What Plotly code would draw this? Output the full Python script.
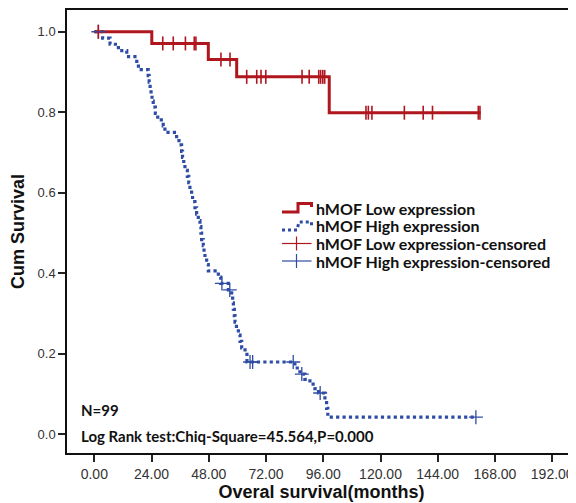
import plotly.graph_objects as go

# ---- data ----
low_times = [0, 24.1, 47.8, 59.7, 98.5, 162.0]
low_surv = [1.0, 0.971, 0.931, 0.888, 0.799, 0.799]
low_cens_t = [1.7, 28.7, 33.1, 38.2, 41.9, 42.6, 53.1, 56.9, 63.9, 68.1, 69.9, 71.9,
              87.1, 90.1, 94.1, 94.9, 95.8, 96.6, 113.9, 114.9, 116.4, 130.0, 137.9,
              141.8, 161.0, 161.7]
low_cens_s = [1.0, 0.971, 0.971, 0.971, 0.971, 0.971, 0.931, 0.931, 0.888, 0.888, 0.888,
              0.888, 0.888, 0.888, 0.888, 0.888, 0.888, 0.888, 0.799, 0.799, 0.799, 0.799,
              0.799, 0.799, 0.799, 0.799]

high_times = [0, 3.5, 6.6, 10.1, 13.6, 17.8, 18.5, 22.6, 23.0, 23.4, 23.8, 24.2, 24.7,
              25.6, 26.6, 28.9, 29.6, 34.5, 35.5, 36.6, 37.0, 37.5, 38.0, 39.0, 39.6,
              40.1, 40.8, 41.2, 42.2, 42.9, 43.6, 44.3, 44.7, 45.0, 45.7, 46.0, 46.4,
              47.1, 47.8, 52.0, 53.0, 56.2, 57.6, 58.0, 58.3, 58.7, 59.0, 59.6, 60.4,
              61.1, 61.8, 63.2, 64.0, 84.1, 86.2, 88.3, 90.4, 92.5, 94.0, 96.7, 97.4,
              97.9, 160.0]
high_surv = [1.0, 0.984, 0.969, 0.953, 0.938, 0.922, 0.906, 0.891, 0.875, 0.859, 0.844,
             0.828, 0.813, 0.797, 0.781, 0.766, 0.750, 0.734, 0.719, 0.703, 0.688, 0.672,
             0.656, 0.641, 0.625, 0.609, 0.594, 0.578, 0.563, 0.547, 0.531, 0.516, 0.500,
             0.484, 0.469, 0.453, 0.438, 0.422, 0.406, 0.391, 0.375, 0.359, 0.343, 0.327,
             0.311, 0.295, 0.279, 0.263, 0.247, 0.231, 0.215, 0.199, 0.180, 0.165, 0.150,
             0.137, 0.125, 0.114, 0.103, 0.086, 0.065, 0.043, 0.043]
high_cens_t = [1.7, 53.5, 56.8, 65.3, 66.4, 83.4, 87.0, 94.7, 160.0]
high_cens_s = [1.0, 0.375, 0.359, 0.180, 0.180, 0.180, 0.150, 0.103, 0.043]

x_ticks = [0, 24, 48, 72, 96, 120, 144, 168, 192]
y_ticks = [0.0, 0.2, 0.4, 0.6, 0.8, 1.0]

legend_labels = ["hMOF Low expression", "hMOF High expression",
                 "hMOF Low expression-censored", "hMOF High expression-censored"]

RED = "#B0161E"
BLUE = "#2E4CA6"

OFF = 8  # page body margin of the html page
W, H = 576 - OFF, 503 - OFF
ML, MR, MT, MB = 67 - OFF, 0, 10 - OFF, 50
PW, PH = W - ML - MR, H - MT - MB


def px(x):  # page pixel -> paper
    return (x - OFF - ML) / PW


def py(y):
    return (H - MB - (y - OFF)) / PH


fig = go.Figure()
fig.add_trace(go.Scatter(x=high_times, y=high_surv, mode="lines", line_shape="hv",
                         line=dict(color=BLUE, width=3.2, dash="dot"), showlegend=False))
fig.add_trace(go.Scatter(x=low_times, y=low_surv, mode="lines", line_shape="hv",
                         line=dict(color=RED, width=3), showlegend=False))
fig.add_trace(go.Scatter(x=high_cens_t, y=high_cens_s, mode="markers",
                         marker=dict(symbol="cross-thin", size=10,
                                     line=dict(color=BLUE, width=1.3)), showlegend=False))
fig.add_trace(go.Scatter(x=low_cens_t, y=low_cens_s, mode="markers",
                         marker=dict(symbol="line-ns", size=10,
                                     line=dict(color=RED, width=1.6)), showlegend=False))

# ---- manual legend ----
rows = [208.5, 226, 243.5, 261]
shapes = []
r0, r1 = rows[0], rows[1]
shapes.append(dict(type="path", xref="paper", yref="paper",
                   path=f"M {px(282)},{py(r0 + 3.5)} L {px(298)},{py(r0 + 3.5)} L {px(298)},{py(r0 - 5)} "
                        f"L {px(311.5)},{py(r0 - 5)} L {px(311.5)},{py(r0 - 1.5)}",
                   line=dict(color=RED, width=3)))
shapes.append(dict(type="path", xref="paper", yref="paper",
                   path=f"M {px(282)},{py(r1 + 4)} L {px(297)},{py(r1 + 4)} L {px(299)},{py(r1 - 4)} "
                        f"L {px(311.5)},{py(r1 - 4)} L {px(311.5)},{py(r1)}",
                   line=dict(color=BLUE, width=3, dash="dot")))
for yy, col in [(rows[2], RED), (rows[3], BLUE)]:
    shapes.append(dict(type="line", xref="paper", yref="paper",
                       x0=px(282), x1=px(311.5), y0=py(yy), y1=py(yy),
                       line=dict(color=col, width=1.2)))
    shapes.append(dict(type="line", xref="paper", yref="paper",
                       x0=px(296.5), x1=px(296.5), y0=py(yy - 7), y1=py(yy + 7),
                       line=dict(color=col, width=1.2)))

annotations = []
for lab, yy in zip(legend_labels, rows):
    annotations.append(dict(text=f"<b>{lab}</b>", xref="paper", yref="paper",
                            x=px(314), y=py(yy), xanchor="left", yanchor="middle",
                            showarrow=False, font=dict(family="Lato", size=16, color="#111")))
annotations.append(dict(text="<b>N=99</b>", xref="paper", yref="paper",
                        x=px(79), y=py(410), xanchor="left", yanchor="middle",
                        showarrow=False, font=dict(family="Lato", size=15, color="#111")))
annotations.append(dict(text="<b>Log Rank test:Chiq-Square=45.564,P=0.000</b>",
                        xref="paper", yref="paper", x=px(79), y=py(436),
                        xanchor="left", yanchor="middle", showarrow=False,
                        font=dict(family="Lato", size=15, color="#111")))

fig.update_layout(
    width=W, height=H,
    margin=dict(l=ML, r=MR, t=MT, b=MB, autoexpand=False),
    plot_bgcolor="white", paper_bgcolor="white",
    shapes=shapes, annotations=annotations,
    showlegend=False,
    xaxis=dict(range=[-11.45, 201.97], tickvals=x_ticks,
               ticktext=[f"{v:.2f}" for v in x_ticks],
               ticks="outside", ticklen=7, tickwidth=1.5, tickcolor="#222",
               showline=True, linecolor="#111", linewidth=1.5, mirror=True,
               showgrid=False, zeroline=False, automargin=False,
               tickfont=dict(family="Liberation Sans", size=14, color="#333"),
               title=dict(text="<b>Overal survival(months)</b>", standoff=4,
                          font=dict(family="Liberation Sans", size=18, color="#111"))),
    yaxis=dict(range=[-0.046, 1.054], tickvals=y_ticks,
               ticktext=[f"{v:.1f}" for v in y_ticks],
               ticks="outside", ticklen=7, tickwidth=1.5, tickcolor="#222",
               showline=True, linecolor="#111", linewidth=1.5, mirror=False,
               showgrid=False, zeroline=False, automargin=False,
               tickfont=dict(family="Liberation Sans", size=13, color="#333"),
               title=dict(text="<b>Cum Survival</b>", standoff=8,
                          font=dict(family="Liberation Sans", size=18, color="#111"))),
)

fig.write_html("out.html")
